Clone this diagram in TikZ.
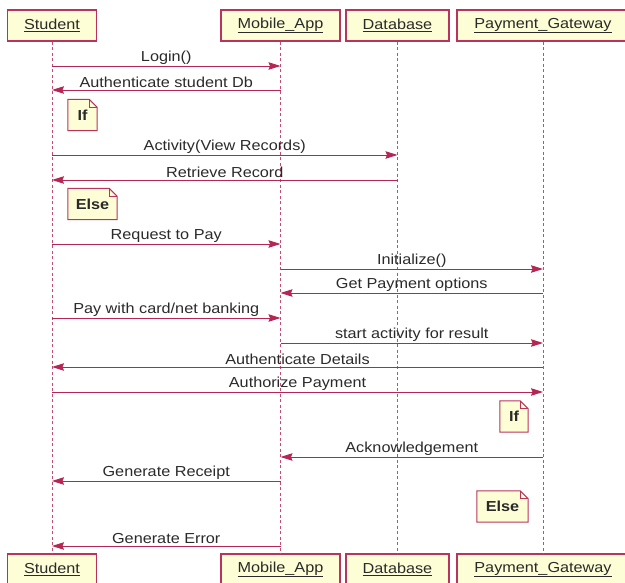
\documentclass[tikz,border=0pt]{standalone}
\usepackage{fontspec}
\setmainfont{Liberation Sans}[FakeStretch=1.12]
\usetikzlibrary{positioning, arrows.meta, backgrounds}
\definecolor{umlred}{HTML}{A80036}
\definecolor{umlfill}{HTML}{FEFED6}
\definecolor{ink}{HTML}{2A2A2A}

\tikzset{
  actor/.style={draw=umlred!80, line width=1.1pt, fill=umlfill, minimum height=31pt,
                inner sep=0pt, text=ink},
  lifeline/.style={umlred!70, line width=1pt, dash pattern=on 3pt off 2.5pt},
  msg/.style={umlred!85, line width=0.9pt, -{Stealth[length=12pt, width=7.5pt, inset=1.5pt]}},
  msglabel/.style={above, inner sep=1.5pt, text=ink},
  notetext/.style={minimum height=31pt, inner sep=0pt, font=\fontsize{14.5}{17}\selectfont\bfseries, text=ink},
  noteline/.style={draw=umlred!80, line width=1pt, fill=umlfill}
}

\begin{document}
\begin{tikzpicture}[x=1pt, y=-1pt, font=\fontsize{14.5}{17}\selectfont]
  \useasboundingbox (0,0) rectangle (625,583);

  % Participants (top)
  \node[actor, minimum width=89pt]  (stuT) at (52,25.5)    {\underline{Student}};
  \node[actor, minimum width=119pt] (appT) at (280.5,25.5) {\underline{Mobile\_App}};
  \node[actor, minimum width=103pt] (dbT)  at (397.5,25.5) {\underline{Database}};
  \node[actor, minimum width=172pt] (payT) at (543,25.5)   {\underline{Payment\_Gateway}};

  % Participants (bottom)
  \node[actor, minimum width=89pt]  (stuB) at (52,569.5)    {\underline{Student}};
  \node[actor, minimum width=119pt] (appB) at (280.5,569.5) {\underline{Mobile\_App}};
  \node[actor, minimum width=103pt] (dbB)  at (397.5,569.5) {\underline{Database}};
  \node[actor, minimum width=172pt] (payB) at (543,569.5)   {\underline{Payment\_Gateway}};

  % Lifelines
  \draw[lifeline] (stuT.south) -- (stuB.north);
  \draw[lifeline] (appT.south) -- (appB.north);
  \draw[lifeline] (dbT.south)  -- (dbB.north);
  \draw[lifeline] (payT.south) -- (payB.north);

  % Messages
  \draw[msg] (stuT |- 0,66)  -- node[msglabel] {Login()} (appT |- 0,66);
  \draw[msg] (appT |- 0,90)  -- node[msglabel] {Authenticate student Db} (stuT |- 0,90);
  \draw[msg] (stuT |- 0,155) -- node[msglabel] {Activity(View Records)} (dbT |- 0,155);
  \draw[msg] (dbT |- 0,180)  -- node[msglabel] {Retrieve Record} (stuT |- 0,180);
  \draw[msg] (stuT |- 0,244) -- node[msglabel] {Request to Pay} (appT |- 0,244);
  \draw[msg] (appT |- 0,269) -- node[msglabel] {Initialize()} (payT |- 0,269);
  \draw[msg] (payT |- 0,293) -- node[msglabel] {Get Payment options} (appT |- 0,293);
  \draw[msg] (stuT |- 0,318) -- node[msglabel] {Pay with card/net banking} (appT |- 0,318);
  \draw[msg] (appT |- 0,343) -- node[msglabel] {start activity for result} (payT |- 0,343);
  \draw[msg] (payT |- 0,367) -- node[msglabel] {Authenticate Details} (stuT |- 0,367);
  \draw[msg] (stuT |- 0,392) -- node[msglabel] {Authorize Payment} (payT |- 0,392);
  \draw[msg] (payT |- 0,457) -- node[msglabel] {Acknowledgement} (appT |- 0,457);
  \draw[msg] (appT |- 0,481) -- node[msglabel] {Generate Receipt} (stuT |- 0,481);
  \draw[msg] (appT |- 0,546) -- node[msglabel] {Generate Error} (stuT |- 0,546);

  % Notes
  \node[notetext, minimum width=29pt] (if1)   at (82.5,115)   {If};
  \node[notetext, minimum width=49pt] (else1) at (92.5,204)   {Else};
  \node[notetext, minimum width=28pt] (if2)   at (514,416.5)  {If};
  \node[notetext, minimum width=51pt] (else2) at (502.5,506.5) {Else};
  \begin{scope}[on background layer]
    \foreach \n in {if1, else1, if2, else2} {
      \draw[noteline] (\n.south west) -- (\n.north west) -- ([xshift=-8pt]\n.north east)
        -- ([yshift=-8pt]\n.north east) -- (\n.south east) -- cycle;
      \draw[umlred!80, line width=1pt] ([xshift=-8pt]\n.north east) -- ([xshift=-8pt, yshift=-8pt]\n.north east)
        -- ([yshift=-8pt]\n.north east);
    }
  \end{scope}
\end{tikzpicture}
\end{document}
